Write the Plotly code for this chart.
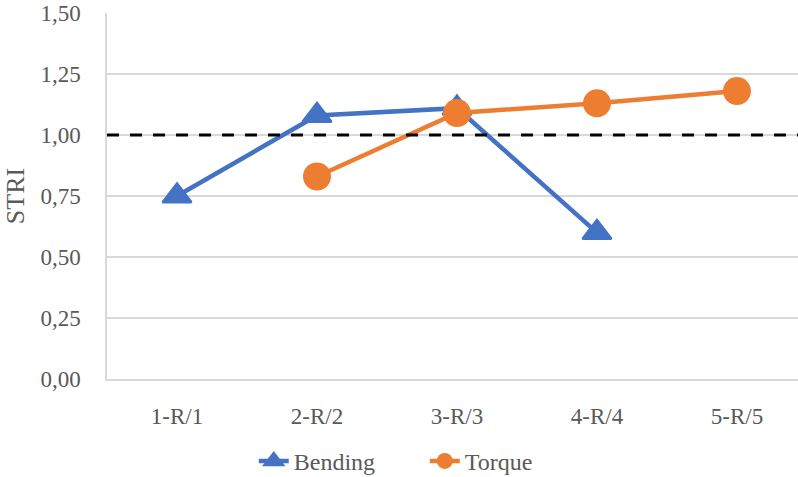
import plotly.graph_objects as go

# Specimen categories and stress-ratio index values
categories = ["1-R/1", "2-R/2", "3-R/3", "4-R/4", "5-R/5"]
bending = [0.75, 1.08, 1.11, 0.60, None]
torque = [None, 0.83, 1.09, 1.13, 1.18]
reference_level = 1.0
y_ticks = [0.0, 0.25, 0.5, 0.75, 1.0, 1.25, 1.5]

BLUE = "#4472C4"
ORANGE = "#ED7D31"
GRID = "#D9D9D9"
TEXT = "#595959"
FONT = "Liberation Serif"

x_pos = list(range(len(categories)))

fig = go.Figure()
fig.add_trace(go.Scatter(
    x=x_pos, y=bending, name="Bending", mode="lines+markers",
    line=dict(color=BLUE, width=4.5),
    marker=dict(symbol="triangle-up", size=25, color=BLUE,
                line=dict(color=BLUE, width=2.5)),
    connectgaps=False,
))
fig.add_trace(go.Scatter(
    x=x_pos, y=torque, name="Torque", mode="lines+markers",
    line=dict(color=ORANGE, width=4.5),
    marker=dict(symbol="circle", size=28, color=ORANGE),
    connectgaps=False,
))

# Threshold line at STRI = 1
fig.add_shape(
    type="line", xref="paper", yref="y", x0=0, x1=1,
    y0=reference_level, y1=reference_level,
    line=dict(color="black", width=3, dash="12px,11px"),
    layer="above",
)

fig.update_layout(
    width=798, height=477,
    margin=dict(l=107, r=0, t=13, b=98, autoexpand=False),
    paper_bgcolor="white", plot_bgcolor="white",
    font=dict(family=FONT, size=23, color=TEXT),
    separators=",.",
    showlegend=True,
    legend=dict(
        orientation="h", xref="paper", yref="paper",
        x=0.2124, y=-0.225, xanchor="left", yanchor="middle",
        font=dict(family=FONT, size=24, color=TEXT),
        entrywidth=126, entrywidthmode="pixels",
    ),
)
fig.update_xaxes(
    range=[-0.5, 4.436],
    tickmode="array", tickvals=x_pos, ticktext=categories,
    showgrid=False, zeroline=False,
    showline=True, linecolor=GRID, linewidth=1.5,
    ticks="outside", ticklen=16, tickcolor="rgba(0,0,0,0)",
    tickfont=dict(family=FONT, size=23, color=TEXT),
)
fig.update_yaxes(
    range=[0, 1.5],
    tickmode="array", tickvals=y_ticks, tickformat=".2f",
    showgrid=True, gridcolor=GRID, gridwidth=1.5,
    zeroline=False,
    showline=True, linecolor=GRID, linewidth=1.5,
    ticks="outside", ticklen=20, tickcolor="rgba(0,0,0,0)",
    tickfont=dict(family=FONT, size=23, color=TEXT),
    title=dict(text="STRI", standoff=8, font=dict(family=FONT, size=26, color=TEXT)),
)

fig.write_html("out.html")
